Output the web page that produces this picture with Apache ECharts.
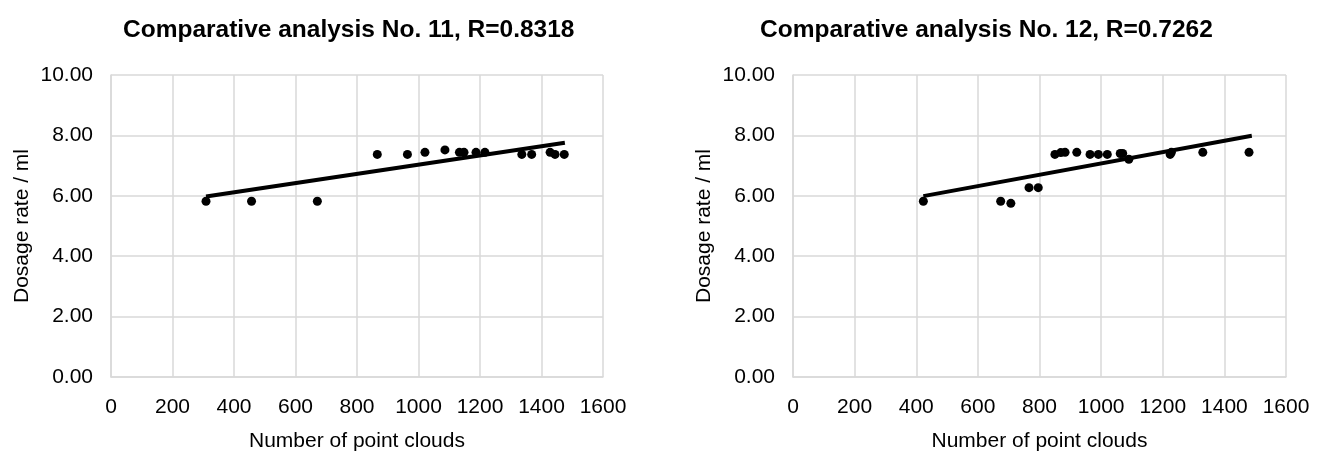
<!DOCTYPE html>
<html>
<head>
<meta charset="utf-8">
<script src="https://cdn.jsdelivr.net/npm/echarts@6/dist/echarts.min.js"></script>
<style>
html,body{margin:0;padding:0;background:#fff;}
#c{width:1329px;height:456px;}
</style>
</head>
<body>
<div id="c"></div>
<script>
const titles = ['Comparative analysis No. 11, R=0.8318', 'Comparative analysis No. 12, R=0.7262'];
const xAxisName = 'Number of point clouds';
const yAxisName = 'Dosage rate / ml';

const points11 = [[309,5.82],[457,5.82],[671,5.82],[866,7.37],[964,7.37],[1021,7.44],[1086,7.52],[1133,7.44],[1148,7.44],[1187,7.44],[1216,7.44],[1336,7.37],[1368,7.37],[1428,7.44],[1444,7.37],[1474,7.37]];
const points12 = [[423,5.82],[674,5.82],[707,5.75],[766,6.27],[796,6.27],[850,7.37],[869,7.43],[883,7.44],[921,7.44],[964,7.37],[991,7.37],[1020,7.37],[1062,7.40],[1070,7.40],[1090,7.21],[1224,7.37],[1228,7.44],[1330,7.44],[1480,7.44]];
const trend11 = [[309,5.98],[1476,7.76]];
const trend12 = [[423,5.99],[1489,7.99]];

const FONT = '"Liberation Sans Narrow","Liberation Sans",Arial,sans-serif';
const grid = '#d9d9d9';

function xAx(i){
  return {gridIndex:i,type:'value',min:0,max:1600,interval:200,
    name:xAxisName,nameLocation:'middle',nameGap:54,
    nameTextStyle:{fontFamily:FONT,fontSize:21,color:'#000'},
    axisLine:{show:true,lineStyle:{color:grid,width:1.5}},axisTick:{show:false},
    axisLabel:{fontFamily:FONT,fontSize:21,color:'#000',margin:20,formatter:v=>String(v)},
    splitLine:{show:true,lineStyle:{color:grid,width:1.5}}};
}
function yAx(i){
  return {gridIndex:i,type:'value',min:0,max:10,interval:2,
    name:yAxisName,nameLocation:'middle',nameGap:78,
    nameTextStyle:{fontFamily:FONT,fontSize:21,color:'#000'},
    axisLine:{show:true,lineStyle:{color:grid,width:1.5}},axisTick:{show:false},
    axisLabel:{fontFamily:FONT,fontSize:21,color:'#000',margin:18,formatter:v=>v.toFixed(2)},
    splitLine:{show:true,lineStyle:{color:grid,width:1.5}}};
}

const chart = echarts.init(document.getElementById('c'));
chart.setOption({
  backgroundColor:'#fff',
  animation:false,
  title:[
    {text:titles[0],left:118,top:13,textStyle:{fontFamily:FONT,fontSize:24.5,fontWeight:'bold',color:'#000'}},
    {text:titles[1],left:755,top:13,textStyle:{fontFamily:FONT,fontSize:24.5,fontWeight:'bold',color:'#000'}}
  ],
  grid:[
    {left:111,top:75,width:492,height:302,containLabel:false,outerBoundsMode:'none'},
    {left:793,top:75,width:493,height:302,containLabel:false,outerBoundsMode:'none'}
  ],
  xAxis:[xAx(0),xAx(1)],
  yAxis:[yAx(0),yAx(1)],
  series:[
    {type:'line',xAxisIndex:0,yAxisIndex:0,data:trend11,showSymbol:false,lineStyle:{color:'#000',width:4},z:2},
    {type:'scatter',xAxisIndex:0,yAxisIndex:0,data:points11,symbolSize:9,itemStyle:{color:'#000',opacity:1},z:3},
    {type:'line',xAxisIndex:1,yAxisIndex:1,data:trend12,showSymbol:false,lineStyle:{color:'#000',width:4},z:2},
    {type:'scatter',xAxisIndex:1,yAxisIndex:1,data:points12,symbolSize:9,itemStyle:{color:'#000',opacity:1},z:3}
  ]
});
</script>
</body>
</html>
